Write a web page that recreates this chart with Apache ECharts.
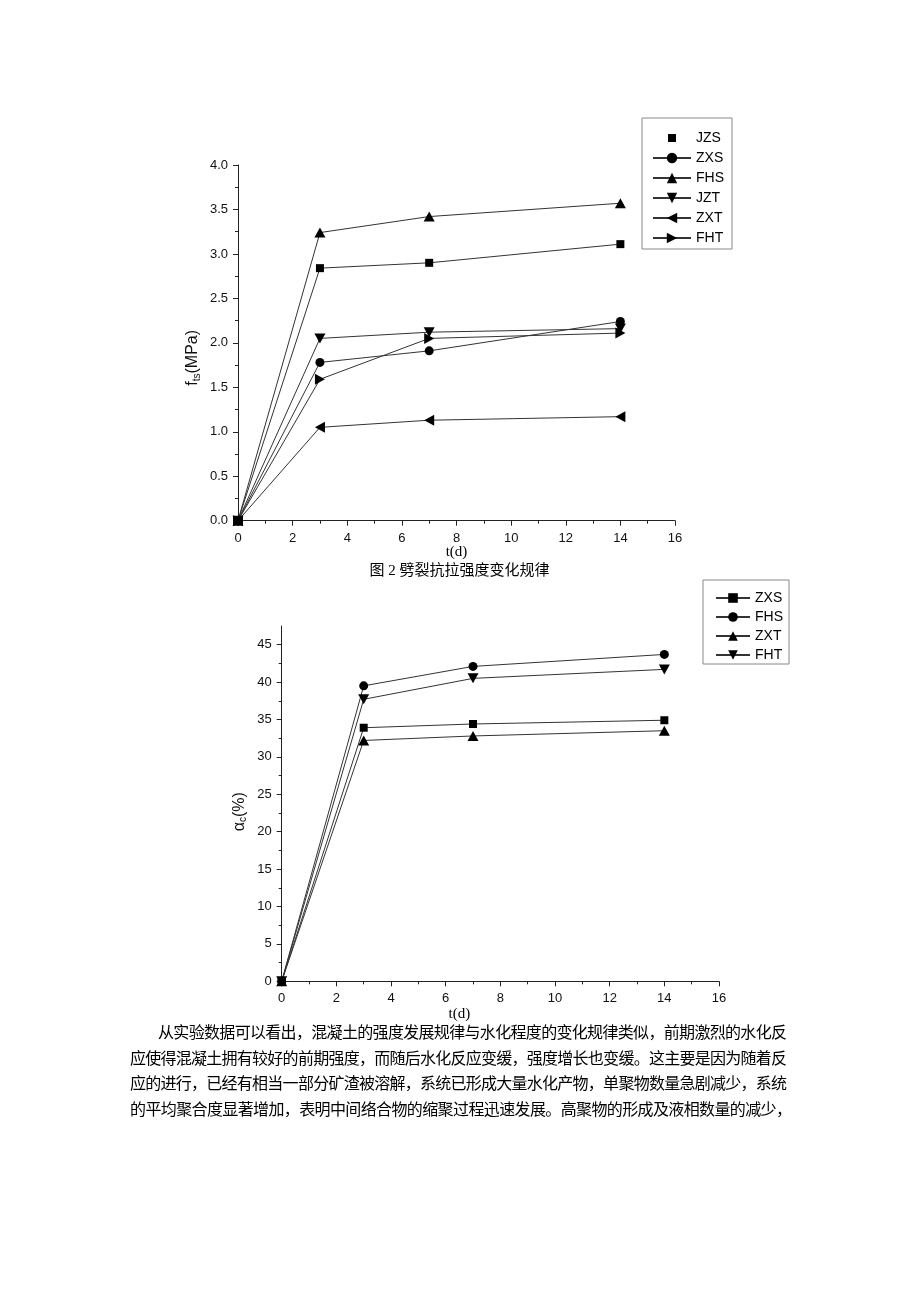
<!DOCTYPE html>
<html><head><meta charset="utf-8">
<script src="https://cdn.jsdelivr.net/npm/echarts@6/dist/echarts.min.js"></script>
<style>
html,body{margin:0;padding:0;background:#fff;}
#chart{position:absolute;left:0;top:0;width:920px;height:1301px;}
.ln{position:absolute;display:inline-block;white-space:nowrap;font-family:"Liberation Serif","Noto Sans CJK SC",serif;font-size:16px;line-height:20px;height:20px;color:#000;}
</style></head>
<body>
<div id="chart"></div>
<div class="ln" data-w="629" style="left:158px;top:1023px;">从实验数据可以看出，混凝土的强度发展规律与水化程度的变化规律类似，前期激烈的水化反</div>
<div class="ln" data-w="657" style="left:130px;top:1049px;">应使得混凝土拥有较好的前期强度，而随后水化反应变缓，强度增长也变缓。这主要是因为随着反</div>
<div class="ln" data-w="657" style="left:130px;top:1074px;">应的进行，已经有相当一部分矿渣被溶解，系统已形成大量水化产物，单聚物数量急剧减少，系统</div>
<div class="ln" data-w="662" style="left:130px;top:1100px;">的平均聚合度显著增加，表明中间络合物的缩聚过程迅速发展。高聚物的形成及液相数量的减少，</div>
<script>
// ---- data ----
const days = [0, 3, 7, 14];
// chart 1: splitting tensile strength f_ts (MPa)
const fJZS = [0, 2.84, 2.90, 3.11];
const fZXS = [0, 1.78, 1.91, 2.24];
const fFHS = [0, 3.24, 3.42, 3.57];
const fJZT = [0, 2.05, 2.12, 2.16];
const fZXT = [0, 1.05, 1.13, 1.17];
const fFHT = [0, 1.59, 2.05, 2.11];
// chart 2: hydration degree alpha_c (%)
const aZXS = [0, 33.9, 34.4, 34.9];
const aFHS = [0, 39.5, 42.1, 43.7];
const aZXT = [0, 32.2, 32.8, 33.5];
const aFHT = [0, 37.7, 40.5, 41.7];
// ticks
const xTicks = [0, 2, 4, 6, 8, 10, 12, 14, 16];
const fTicks = [0, 0.5, 1, 1.5, 2, 2.5, 3, 3.5, 4];
const aTicks = [0, 5, 10, 15, 20, 25, 30, 35, 40, 45];
const namesTop = ['JZS', 'ZXS', 'FHS', 'JZT', 'ZXT', 'FHT'];
const namesBottom = ['ZXS', 'FHS', 'ZXT', 'FHT'];

// justify paragraph lines to their measured widths
document.querySelectorAll('.ln').forEach(el => {
  const W = parseFloat(el.dataset.w);
  const n = Array.from(el.textContent).length;
  const w = el.getBoundingClientRect().width;
  el.style.letterSpacing = ((W - w) / (n - 1)).toFixed(3) + 'px';
});

const SYM = {
  sq: {symbol: 'rect', size: 8},
  ci: {symbol: 'circle', size: 9},
  up: {symbol: 'triangle', size: [11, 10]},
  dn: {symbol: 'path://M0,0L10,0L5,9Z', size: [11, 10]},
  lf: {symbol: 'path://M9,0L9,10L0,5Z', size: [10, 11]},
  rt: {symbol: 'path://M0,0L0,10L9,5Z', size: [10, 11]}
};
const pairs = arr => days.map((d, i) => [d, arr[i]]);
const lab = {fontFamily: 'Liberation Sans', fontSize: 13, color: '#111'};
const axLine = {show: true, lineStyle: {color: '#222', width: 1}};

function mkSeries(name, arr, sym, gi) {
  return {
    type: 'line', name: name, xAxisIndex: gi, yAxisIndex: gi,
    data: pairs(arr), symbol: SYM[sym].symbol, symbolSize: SYM[sym].size,
    showAllSymbol: true, color: '#000',
    itemStyle: {color: '#000'},
    lineStyle: {color: '#333', width: 1},
    emphasis: {disabled: true}, animation: false, z: 3
  };
}
function xAx(gi, shiftPad, gap) {
  return {
    type: 'value', gridIndex: gi, min: 0, max: 16, interval: 2,
    axisLine: axLine,
    axisTick: {show: true, inside: false, length: 5, lineStyle: {color: '#222'}, customValues: xTicks},
    minorTick: {show: true, splitNumber: 2, length: 3, lineStyle: {color: '#222'}},
    splitLine: {show: false},
    axisLabel: Object.assign({margin: 11, customValues: xTicks, formatter: v => String(v)}, lab),
    name: 't(d)', nameLocation: 'middle', nameGap: gap, nameMoveOverlap: false,
    nameTextStyle: {fontFamily: 'Liberation Serif', fontSize: 15, color: '#000', padding: shiftPad}
  };
}

const chart = echarts.init(document.getElementById('chart'), null, {renderer: 'canvas', width: 920, height: 1301});
chart.setOption({
  animation: false,
  backgroundColor: '#fff',
  grid: [
    {left: 238, top: 165, width: 437, height: 355.7, outerBoundsMode: 'none'},
    {left: 281.7, top: 626, width: 437.3, height: 355.3, outerBoundsMode: 'none'}
  ],
  xAxis: [xAx(0, [0, 0, 0, 0], 24), xAx(1, [0, 82, 0, 0], 25)],
  yAxis: [
    {
      type: 'value', gridIndex: 0, min: 0, max: 4, interval: 0.5,
      axisLine: axLine,
      axisTick: {show: true, inside: false, length: 5, lineStyle: {color: '#222'}, customValues: fTicks},
      minorTick: {show: true, splitNumber: 2, length: 3, lineStyle: {color: '#222'}},
      splitLine: {show: false},
      axisLabel: Object.assign({margin: 10, customValues: fTicks, formatter: v => v.toFixed(1)}, lab),
      name: '{f|f}{s|ts}{f|(MPa)}', nameLocation: 'middle', nameRotate: 90, nameGap: 36, nameMoveOverlap: false,
      nameTextStyle: {
        fontFamily: 'Liberation Sans', fontSize: 16, color: '#111', padding: [0, 30, 0, 0],
        rich: {
          f: {fontFamily: 'Liberation Sans', fontSize: 16, lineHeight: 18, color: '#111'},
          s: {fontFamily: 'Liberation Sans', fontSize: 10, lineHeight: 10, verticalAlign: 'bottom', color: '#111'}
        }
      }
    },
    {
      type: 'value', gridIndex: 1, min: 0, max: 47.5, interval: 5,
      axisLine: axLine,
      axisTick: {show: true, inside: false, length: 5, lineStyle: {color: '#222'}, customValues: aTicks},
      minorTick: {show: true, splitNumber: 2, length: 3, lineStyle: {color: '#222'}},
      splitLine: {show: false},
      axisLabel: Object.assign({margin: 10, customValues: aTicks, formatter: v => String(v)}, lab),
      name: '{f|α}{s|c}{f|(%)}', nameLocation: 'middle', nameRotate: 90, nameGap: 33, nameMoveOverlap: false,
      nameTextStyle: {
        fontFamily: 'Liberation Sans', fontSize: 16, color: '#111', padding: [0, 16, 0, 0],
        rich: {
          f: {fontFamily: 'Liberation Sans', fontSize: 16, lineHeight: 18, color: '#111'},
          s: {fontFamily: 'Liberation Sans', fontSize: 10, lineHeight: 10, verticalAlign: 'bottom', color: '#111'}
        }
      }
    }
  ],
  legend: [
    {
      data: [{name: 'JZS', icon: 'path://M0,0M13,13M2.5,2.5h8v8h-8z'}, 'ZXS', 'FHS', 'JZT', 'ZXT', 'FHT'],
      orient: 'vertical', left: 642, top: 118, itemWidth: 38, itemHeight: 13, itemGap: 6,
      padding: [13, 8, 4, 10], borderColor: '#888', borderWidth: 1, selectedMode: false,
      textStyle: {fontFamily: 'Liberation Sans', fontSize: 14, lineHeight: 14, color: '#000'}
    },
    {
      data: namesBottom.map(n => n + '#2'),
      formatter: n => n.split('#')[0],
      orient: 'vertical', left: 703, top: 580, itemWidth: 34, itemHeight: 12, itemGap: 5,
      padding: [11, 6, 2, 12], borderColor: '#888', borderWidth: 1, selectedMode: false,
      textStyle: {fontFamily: 'Liberation Sans', fontSize: 14, lineHeight: 14, color: '#000'}
    }
  ],
  graphic: [
    {
      type: 'text', x: 459.5, y: 571,
      style: {text: '图 2 劈裂抗拉强度变化规律', font: "15px 'Liberation Serif', 'Noto Sans CJK SC'", fill: '#000', align: 'center', verticalAlign: 'middle'}
    }
  ],
  series: [
    mkSeries('JZS', fJZS, 'sq', 0),
    mkSeries('ZXS', fZXS, 'ci', 0),
    mkSeries('FHS', fFHS, 'up', 0),
    mkSeries('JZT', fJZT, 'dn', 0),
    mkSeries('ZXT', fZXT, 'lf', 0),
    mkSeries('FHT', fFHT, 'rt', 0),
    mkSeries('ZXS#2', aZXS, 'sq', 1),
    mkSeries('FHS#2', aFHS, 'ci', 1),
    mkSeries('ZXT#2', aZXT, 'up', 1),
    mkSeries('FHT#2', aFHT, 'dn', 1)
  ]
});
</script>
</body></html>
